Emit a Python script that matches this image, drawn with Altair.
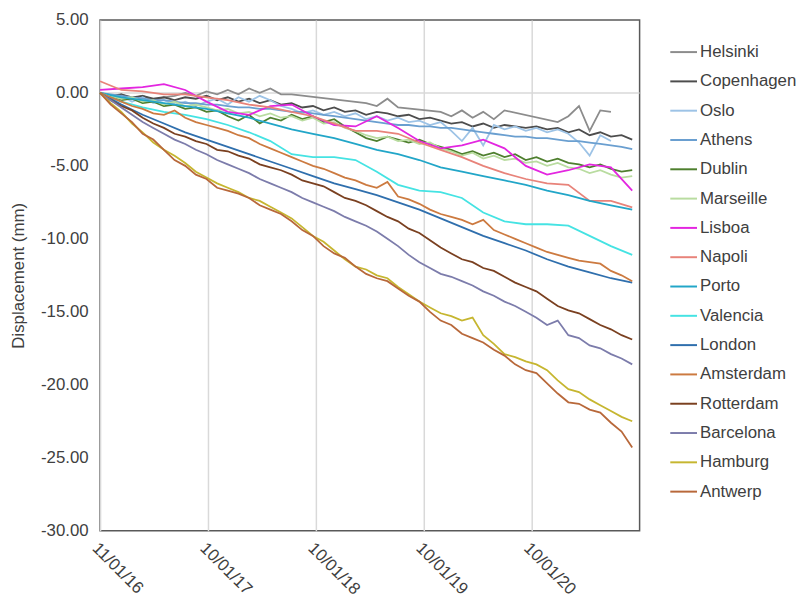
import pandas as pd
import altair as alt

nan = float("nan")

cities = ["Helsinki", "Copenhagen", "Oslo", "Athens", "Dublin", "Marseille",
          "Lisboa", "Napoli", "Porto", "Valencia", "London", "Amsterdam",
          "Rotterdam", "Barcelona", "Hamburg", "Antwerp"]
colors = ["#8c8c8c", "#4d4d4d", "#9dc3e6", "#6a9fd0", "#4e7f2e", "#b9dca0",
          "#e326e0", "#e8837a", "#22a6c8", "#45e3e3", "#2f6fad", "#cc7a40",
          "#7a4020", "#7c7cab", "#c6b630", "#b8683a"]

# fine sampling (every 36 days from 11/01/16)
fine_dates = pd.date_range("2016-01-11", periods=51, freq="36D").strftime("%Y-%m-%d").tolist()
# coarse sampling (every 72 days from 11/01/16)
coarse_dates = pd.date_range("2016-01-11", periods=26, freq="72D").strftime("%Y-%m-%d").tolist()

helsinki = [0.0, -0.3, -0.1, -0.4, -0.2, -0.5, -0.3, -0.2, 0.0, -0.2,
            0.1, -0.1, 0.2, -0.1, 0.3, 0.0, 0.3, -0.1, -0.1, nan,
            nan, nan, nan, nan, nan, -0.7, -0.9, -0.4, -1.0, nan,
            nan, nan, -1.3, -1.6, -1.2, -1.7, -1.3, -1.8, -1.2, nan,
            nan, nan, nan, -2.0, -1.6, -0.9, -2.6, -1.2, -1.3, nan,
            nan]
copenhagen = [0.0, -0.2, -0.1, -0.3, -0.2, -0.4, -0.3, -0.5, -0.3, -0.4,
              -0.2, -0.5, -0.3, -0.6, -0.4, -0.7, -0.5, -0.8, -0.7, -1.0,
              -0.9, -1.2, -1.0, -1.3, -1.2, -1.5, -1.3, -1.4, -1.6, -1.5,
              -1.8, -1.7, -1.9, -2.1, -2.0, -2.3, -2.1, -2.4, -2.2, -2.3,
              -2.4, -2.3, -2.5, -2.4, -2.7, -2.5, -2.9, -2.7, -3.0, -2.9,
              -3.2]
oslo = [0.0, -0.4, -0.2, -0.6, -0.3, -0.7, -0.5, -0.8, -0.6, -0.9,
        -0.6, -0.4, -0.8, -0.3, -0.6, -0.2, -0.5, -0.9, -1.1, -1.4,
        -1.2, -1.5, -1.3, -1.6, -1.4, -1.8, -1.6, -1.9, -1.7, -2.0,
        -1.9, -2.2, -2.0, -2.6, -3.3, -2.4, -3.6, -2.2, -2.5, -2.3,
        -2.6, -2.4, -2.7, -2.5, -2.8, -3.4, -4.3, -2.9, -3.3, nan,
        nan]
athens = [0.0, -0.1, -0.2, -0.3, -0.4, -0.5, -0.5, -0.6, -0.7, -0.7,
          -0.8, -0.8, -0.9, -1.0, -1.0, -1.1, -1.1, -1.2, -1.3, -1.3,
          -1.4, -1.5, -1.6, -1.7, -1.8, -1.9, -2.0, -2.1, -2.2, -2.2,
          -2.3, -2.3, -2.4, -2.4, -2.5, -2.6, -2.7, -2.8, -2.9, -3.0,
          -3.0, -3.1, -3.1, -3.2, -3.3, -3.3, -3.4, -3.5, -3.6, -3.7,
          -3.85]
dublin = [0.0, -0.3, -0.5, -0.4, -0.7, -0.6, -0.9, -0.8, -1.1, -1.0,
          -1.3, -1.2, -1.6, -1.9, -1.5, -2.1, -1.7, -1.9, -1.5, -1.8,
          -1.6, -2.0, -1.8, -2.3, -2.7, -3.1, -3.3, -3.0, -3.2, -3.4,
          -3.2, -3.5, -3.7, -3.9, -4.2, -4.0, -4.3, -4.1, -4.4, -4.2,
          -4.6, -4.4, -4.7, -4.5, -4.8, -4.9, -5.1, -4.9, -5.2, -5.4,
          -5.3]
marseille = [0.0, -0.2, -0.4, -0.3, -0.6, -0.5, -0.8, -0.6, -0.9, -0.8,
             -1.0, -1.2, -1.1, -1.4, -1.3, -1.6, -1.4, -1.7, -1.6, -1.9,
             -1.7, -2.1, -2.0, -2.4, -2.6, -2.9, -3.1, -3.0, -3.3, -3.2,
             -3.5, -3.4, -3.8, -4.0, -4.3, -4.1, -4.5, -4.3, -4.6, -4.5,
             -4.8, -4.7, -5.0, -4.8, -5.1, -5.2, -5.5, -5.3, -5.6, -5.8,
             -5.7]
amsterdam = [0.0, -0.3, -0.6, -0.9, -1.1, -1.4, -1.5, -1.2, -1.7, -2.0,
             -2.2, -2.4, -2.6, -2.9, -3.1, -3.5, -3.8, -4.1, -4.4, -4.7,
             -5.0, -5.2, -5.5, -5.8, -6.0, -6.3, -6.5, -6.1, -7.1, -7.3,
             -7.6, -8.0, -8.3, -8.5, -8.7, -9.0, -8.7, -9.4, -9.7, -10.0,
             -10.3, -10.6, -10.9, -11.1, -11.3, -11.5, -11.6, -11.7, -12.2, -12.5,
             -12.9]
rotterdam = [0.0, -0.5, -0.9, -1.2, -1.7, -2.1, -2.4, -2.8, -3.0, -3.3,
             -3.5, -3.9, -4.0, -4.3, -4.5, -4.9, -5.1, -5.3, -5.6, -6.0,
             -6.2, -6.4, -6.8, -7.2, -7.4, -7.7, -8.1, -8.5, -8.8, -9.3,
             -9.6, -10.1, -10.6, -11.0, -11.4, -11.6, -12.0, -12.2, -12.6, -13.0,
             -13.3, -13.6, -14.1, -14.6, -14.9, -15.1, -15.5, -15.9, -16.2, -16.6,
             -16.9]
barcelona = [0.0, -0.5, -1.0, -1.5, -2.0, -2.4, -2.8, -3.2, -3.5, -3.9,
             -4.2, -4.6, -4.9, -5.2, -5.5, -5.9, -6.2, -6.5, -6.8, -7.2,
             -7.5, -7.8, -8.1, -8.5, -8.8, -9.1, -9.5, -10.0, -10.5, -11.1,
             -11.6, -12.0, -12.4, -12.6, -12.9, -13.2, -13.6, -13.9, -14.3, -14.6,
             -15.0, -15.4, -15.9, -15.6, -16.6, -16.8, -17.3, -17.5, -17.9, -18.2,
             -18.6]
hamburg = [0.0, -0.7, -1.3, -2.1, -2.7, -3.4, -3.9, -4.3, -4.8, -5.4,
           -5.8, -6.2, -6.5, -6.8, -7.2, -7.4, -7.8, -8.2, -8.6, -9.2,
           -9.8, -10.2, -10.8, -11.4, -11.9, -12.1, -12.5, -12.7, -13.3, -13.8,
           -14.3, -14.7, -15.1, -15.3, -15.6, -15.4, -16.6, -17.2, -17.9, -18.1,
           -18.4, -18.6, -19.0, -19.7, -20.3, -20.5, -21.0, -21.4, -21.8, -22.2,
           -22.5]
antwerp = [0.0, -0.8, -1.4, -2.0, -2.8, -3.2, -3.9, -4.6, -5.0, -5.6,
           -5.9, -6.5, -6.7, -6.9, -7.2, -7.7, -8.0, -8.3, -8.8, -9.4,
           -9.8, -10.5, -11.0, -11.3, -11.9, -12.4, -12.7, -12.9, -13.4, -13.9,
           -14.3, -15.0, -15.6, -15.9, -16.5, -16.8, -17.1, -17.6, -18.0, -18.6,
           -19.0, -19.2, -19.9, -20.6, -21.2, -21.3, -21.7, -21.9, -22.6, -23.2,
           -24.3]

lisboa = [0.2, 0.3, 0.4, 0.6, 0.2, -0.6, -1.3, -1.5, -0.9, -0.8, -1.6, -2.2, -2.3,
          -1.6, -2.4, -3.3, -3.8, -3.6, -3.2, -3.8, -5.0, -5.6, -5.3, -4.9, -5.1, -6.7]
napoli = [0.8, 0.2, 0.1, -0.1, -0.1, -0.3, -0.5, -0.8, -1.0, -1.3, -1.6, -2.1, -2.6,
          -2.6, -2.8, -3.4, -3.9, -4.4, -5.0, -5.5, -5.9, -6.2, -6.3, -7.4, -7.4, -7.85]
porto = [0.0, -0.3, -0.5, -0.7, -0.9, -1.1, -1.4, -1.7, -2.1, -2.5, -2.8, -3.1, -3.5,
         -3.9, -4.2, -4.6, -5.1, -5.4, -5.7, -6.0, -6.3, -6.7, -7.0, -7.4, -7.7, -8.0]
valencia = [0.0, -0.6, -1.0, -1.3, -1.5, -1.8, -2.2, -2.7, -3.3, -4.2, -4.4, -4.4, -4.6,
            -5.4, -6.3, -6.7, -6.8, -7.2, -8.2, -8.8, -9.0, -9.0, -9.1, -9.8, -10.5, -11.1]
london = [0.0, -0.8, -1.5, -2.1, -2.7, -3.2, -3.7, -4.2, -4.7, -5.2, -5.7, -6.2, -6.6,
          -7.0, -7.5, -8.0, -8.6, -9.2, -9.8, -10.3, -10.8, -11.4, -11.9, -12.3, -12.7, -13.0]

series = {
    "Helsinki": (fine_dates, helsinki), "Copenhagen": (fine_dates, copenhagen),
    "Oslo": (fine_dates, oslo), "Athens": (fine_dates, athens),
    "Dublin": (fine_dates, dublin), "Marseille": (fine_dates, marseille),
    "Lisboa": (coarse_dates, lisboa), "Napoli": (coarse_dates, napoli),
    "Porto": (coarse_dates, porto), "Valencia": (coarse_dates, valencia),
    "London": (coarse_dates, london), "Amsterdam": (fine_dates, amsterdam),
    "Rotterdam": (fine_dates, rotterdam), "Barcelona": (fine_dates, barcelona),
    "Hamburg": (fine_dates, hamburg), "Antwerp": (fine_dates, antwerp),
}

rows = []
for k, city in enumerate(cities):
    dates, vals = series[city]
    for d, v in zip(dates, vals):
        if v == v:
            rows.append({"city": city, "date": d, "value": v, "k": k})
df = pd.DataFrame(rows)

tick_dates = [alt.DateTime(year=2016, month=1, date=11, utc=True),
              alt.DateTime(year=2017, month=1, date=10, utc=True),
              alt.DateTime(year=2018, month=1, date=10, utc=True),
              alt.DateTime(year=2019, month=1, date=10, utc=True),
              alt.DateTime(year=2020, month=1, date=10, utc=True)]
x_domain = [alt.DateTime(year=2016, month=1, date=11, utc=True),
            alt.DateTime(year=2021, month=1, date=9, utc=True)]
y_ticks = [-30, -25, -20, -15, -10, -5, 0, 5]

FONT = "Liberation Sans"
TXT = "#404040"

x_enc = alt.X("date:T", scale=alt.Scale(type="utc", domain=x_domain),
              axis=alt.Axis(values=tick_dates, format="%d/%m/%y", labelAngle=45,
                            labelAlign="left", labelBaseline="top",
                            labelFontSize=17, labelFont=FONT, labelColor=TXT,
                            grid=True, gridColor="#d9d9d9", gridWidth=1.5,
                            ticks=False, domain=False, labelPadding=9, title=None))
y_enc = alt.Y("value:Q", scale=alt.Scale(domain=[-30, 5], nice=False, zero=False),
              axis=alt.Axis(values=y_ticks,
                            labelExpr="replace(format(datum.value, '.2f'), '\u2212', '-')",
                            grid=False, ticks=False,
                            domain=False, labelPadding=12, labelFontSize=17,
                            labelFont=FONT, labelColor=TXT,
                            title="Displacement (mm)", titleFontSize=17,
                            titleFont=FONT, titleFontWeight="normal", titleColor=TXT,
                            titleX=-73))

zero_rule = alt.Chart(pd.DataFrame({"value": [0]})).mark_rule(
    color="#d9d9d9", strokeWidth=1.5).encode(y=alt.Y("value:Q"))

lines = alt.Chart(df).mark_line(strokeWidth=1.8).encode(
    x=x_enc,
    y=y_enc,
    color=alt.Color("city:N", sort=cities,
                    scale=alt.Scale(domain=cities, range=colors),
                    legend=alt.Legend(title=None, orient="none", legendX=575, legendY=18,
                                      symbolType="stroke", symbolSize=729,
                                      symbolStrokeWidth=2, labelFontSize=17,
                                      labelFont=FONT, labelColor=TXT,
                                      rowPadding=6.6, labelOffset=2, labelLimit=200,
                                      padding=0)),
    order=alt.Order("k:Q"),
    detail="city:N",
)

chart = alt.layer(zero_rule, lines).properties(
    width=545, height=516,
    padding={"left": 93, "top": 9, "right": 160, "bottom": 74},
    autosize=alt.AutoSizeParams(type="none"),
).configure_view(stroke="#595959", strokeWidth=1.5)

chart.save("out.html", embed_options={"renderer": "svg", "actions": False})
